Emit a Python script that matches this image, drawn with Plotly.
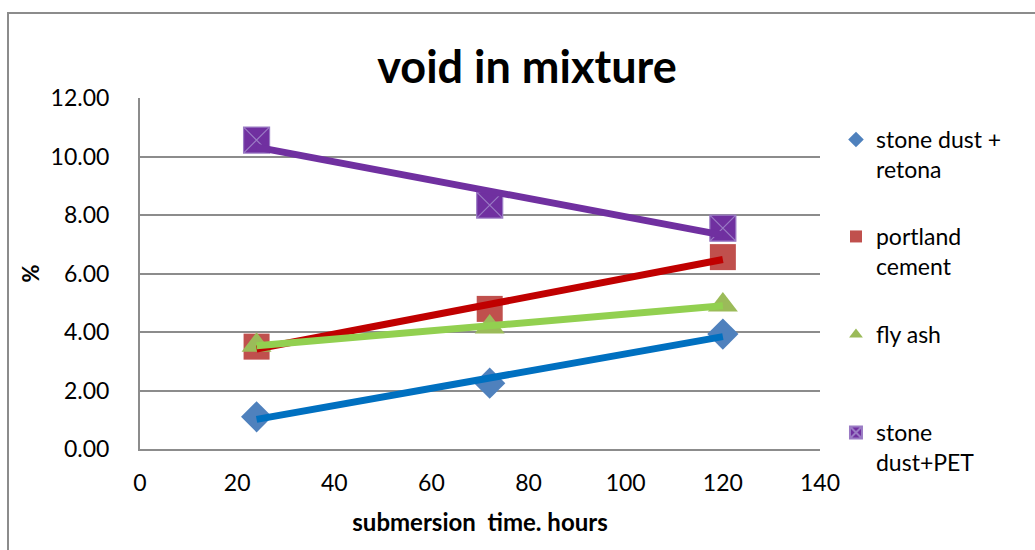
import numpy as np
import plotly.graph_objects as go

hours = [24, 72, 120]
series_names = ["stone dust +<br>retona", "portland<br>cement", "fly ash", "stone<br>dust+PET"]
stone_retona = [1.10, 2.25, 3.93]
portland = [3.50, 4.79, 6.56]
fly_ash = [3.55, 4.17, 4.92]
stone_pet = [10.56, 8.34, 7.55]
x_ticks = [0, 20, 40, 60, 80, 100, 120, 140]
y_ticks = [0, 2, 4, 6, 8, 10, 12]

FONT = "Lato, 'Open Sans', sans-serif"
marker_colors = ["#4F81BD", "#C0504D", "#9BBB59", "#7030A0"]
line_colors = ["#0070C0", "#C00000", "#92D050", "#7030A0"]
symbols = ["diamond", "square", "triangle-up", "square-x"]
sizes = [24, 26, 26, 26]
legends = ["legend", "legend2", "legend3", "legend4"]
data = [stone_retona, portland, fly_ash, stone_pet]

fig = go.Figure()
for i, ys in enumerate(data):
    mline = dict(width=0)
    if symbols[i] == "square-x":
        mline = dict(width=1.2, color="#9A7BC4")
    fig.add_trace(go.Scatter(
        x=hours, y=ys, mode="markers", name=series_names[i],
        marker=dict(symbol=symbols[i], size=sizes[i], color=marker_colors[i], line=mline),
        legend=legends[i], showlegend=True,
    ))
for i, ys in enumerate(data):
    slope, intercept = np.polyfit(hours, ys, 1)
    xs = [hours[0], hours[-1]]
    fig.add_trace(go.Scatter(
        x=xs, y=[slope * v + intercept for v in xs], mode="lines",
        line=dict(color=line_colors[i], width=7), showlegend=False, hoverinfo="skip",
    ))

def px_y(p):
    return (449 - p) / 351

leg_common = dict(font=dict(family=FONT, size=23, color="#000"), bgcolor="rgba(0,0,0,0)",
                  xanchor="left", yanchor="top", valign="top", itemsizing="constant",
                  tracegroupgap=0)
lx = 1.0235
fig.update_layout(
    legend=dict(x=lx, y=px_y(118), **leg_common),
    legend2=dict(x=lx, y=px_y(215), **leg_common),
    legend3=dict(x=lx, y=px_y(313), **leg_common),
    legend4=dict(x=lx, y=px_y(411), **leg_common),
)

fig.update_layout(
    width=1035, height=550,
    margin=dict(l=140, r=215, t=98, b=101),
    paper_bgcolor="white", plot_bgcolor="white",
    title=dict(text="<b>void in mixture</b>", x=527 / 1035, xanchor="center",
               y=1 - 67 / 550, yanchor="middle",
               font=dict(family=FONT, size=45, color="#000")),
    xaxis=dict(range=[0, 140], tickvals=x_ticks, ticktext=[str(v) for v in x_ticks],
               showgrid=False, zeroline=False, showline=True, linecolor="#8C8C8C", linewidth=2,
               ticks="", tickfont=dict(family=FONT, size=23, color="#000"), ticklabelstandoff=12,
               title=dict(text="<b>submersion\u00a0\u00a0time. hours</b>", standoff=20,
                          font=dict(family=FONT, size=24, color="#000"))),
    yaxis=dict(range=[0, 12], tickvals=y_ticks, ticktext=[f"{v:.2f}" for v in y_ticks],
               showgrid=True, gridcolor="#8C8C8C", gridwidth=2, zeroline=False,
               showline=True, linecolor="#8C8C8C", linewidth=2, ticks="",
               tickfont=dict(family=FONT, size=23, color="#000"), ticklabelstandoff=24,
               title=dict(text="<b>%</b>", standoff=5,
                          font=dict(family=FONT, size=22, color="#000"))),
    shapes=[dict(type="rect", xref="paper", yref="paper",
                 x0=(8 - 140) / 680, x1=(1045 - 140) / 680,
                 y0=(449 - 560) / 351, y1=(449 - 13) / 351,
                 line=dict(color="#8C8C8C", width=2), fillcolor="rgba(0,0,0,0)", layer="below")],
)

fig.write_html("out.html")
